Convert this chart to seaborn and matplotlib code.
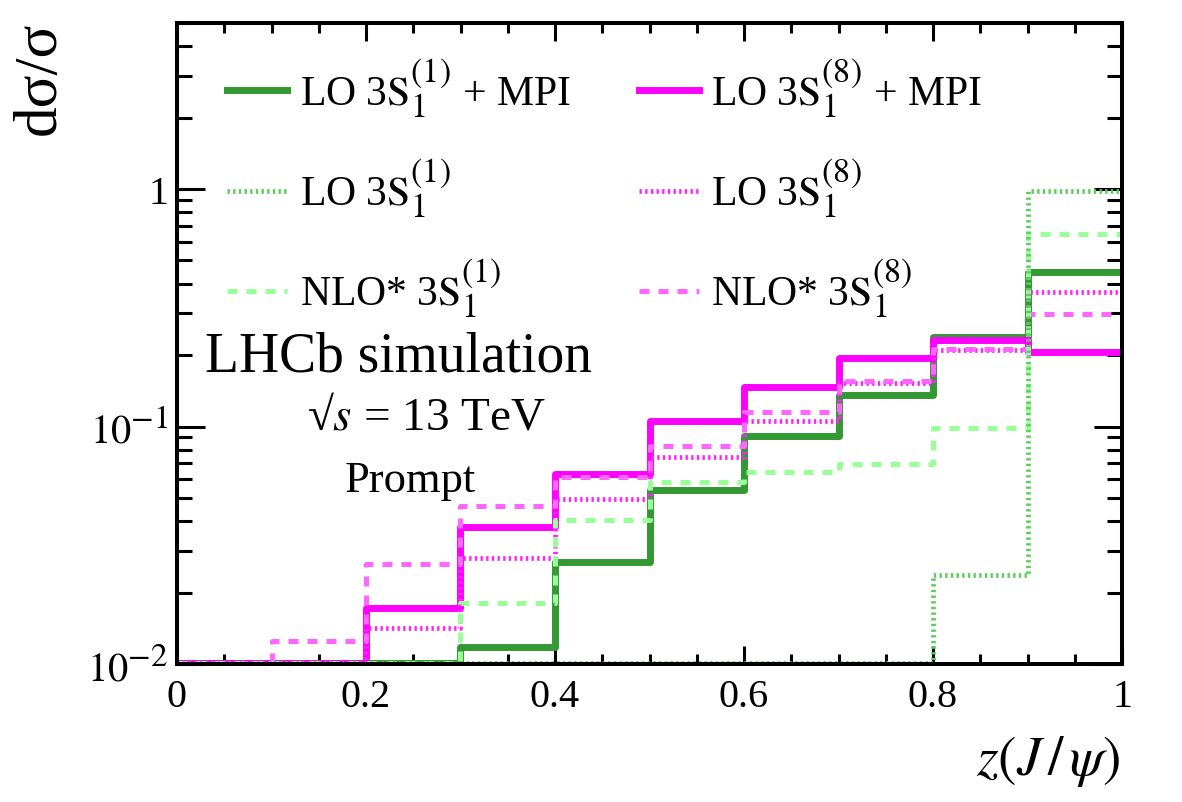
import numpy as np
import seaborn as sns
import matplotlib.pyplot as plt
import matplotlib._mathtext as mathtext_internal
from matplotlib.lines import Line2D
from matplotlib.ticker import MultipleLocator, NullFormatter

# bin edges and contents (values at ~0.0101 sit on the axis floor)
edges = [0.0, 0.1, 0.2, 0.3, 0.4, 0.5, 0.6, 0.7, 0.8, 0.9, 1.0]
centers = [0.05, 0.15, 0.25, 0.35, 0.45, 0.55, 0.65, 0.75, 0.85, 0.95]

lo1_mpi = [0.0101, 0.0101, 0.0101, 0.0118, 0.0269, 0.054, 0.0916, 0.136, 0.238, 0.447]
lo8_mpi = [0.0101, 0.0101, 0.0172, 0.0379, 0.0634, 0.105, 0.147, 0.194, 0.231, 0.205]
lo1 = [0.0101, 0.0101, 0.0101, 0.0101, 0.0101, 0.0101, 0.0101, 0.0101, 0.0237, 0.98]
lo8 = [0.0101, 0.0101, 0.0142, 0.028, 0.0497, 0.0747, 0.105, 0.153, 0.209, 0.368]
nlo1 = [0.0101, 0.0101, 0.0101, 0.0181, 0.0405, 0.0586, 0.0646, 0.0698, 0.099, 0.646]
nlo8 = [0.0101, 0.0125, 0.0264, 0.0464, 0.061, 0.0824, 0.115, 0.155, 0.213, 0.297]

labels = [
    r"LO 3$\mathrm{S}_1^{(1)}$ + MPI",
    r"LO 3$\mathrm{S}_1^{(1)}$",
    r"NLO* 3$\mathrm{S}_1^{(1)}$",
    r"LO 3$\mathrm{S}_1^{(8)}$ + MPI",
    r"LO 3$\mathrm{S}_1^{(8)}$",
    r"NLO* 3$\mathrm{S}_1^{(8)}$",
]

xticks = [0, 0.2, 0.4, 0.6, 0.8, 1.0]
xticklabels = ["0", "0.2", "0.4", "0.6", "0.8", "1"]
yticks = [0.01, 0.1, 1]
yticklabels = [r"$10^{-2}$", r"$10^{-1}$", "1"]

plt.rcParams["font.family"] = ["Liberation Serif", "DejaVu Serif"]
plt.rcParams["mathtext.fontset"] = "stix"
# ROOT-style latex draws bigger sub/superscripts than mathtext
mathtext_internal.SHRINK_FACTOR = 0.82

solid = "-"
dotted = (0, (0.5, 0.7))
dashed = (0, (2.0, 1.8))

styles = [
    # data, color, linewidth, linestyle
    (lo1_mpi, "#339933", 5.0, solid),
    (lo1, "#5ccc5c", 3.4, dotted),
    (nlo1, "#99ff99", 3.6, dashed),
    (lo8_mpi, "#ff00ff", 5.0, solid),
    (lo8, "#ff22ff", 3.4, dotted),
    (nlo8, "#ff66ff", 3.6, dashed),
]

fig = plt.figure(figsize=(11.82, 8.03), dpi=100)
ax = fig.add_axes([177 / 1182, 1 - 665 / 803, 945 / 1182, 641 / 803])

draw_order = [0, 3, 4, 5, 2, 1]
for i in draw_order:
    vals, col, lw, ls = styles[i]
    sns.histplot(x=centers, weights=vals, bins=edges, element="step",
                 fill=False, color=col, linewidth=lw, linestyle=ls, ax=ax)

ax.set_yscale("log")
ax.set_xlim(0, 1)
ax.set_ylim(0.01, 5)
ax.set_xlabel("")
ax.set_ylabel("")

ax.set_xticks(xticks)
ax.set_xticklabels(xticklabels)
ax.xaxis.set_minor_locator(MultipleLocator(0.05))
ax.set_yticks(yticks)
ax.set_yticklabels(yticklabels)
ax.yaxis.set_minor_formatter(NullFormatter())

ax.tick_params(which="both", direction="in", top=True, right=True,
               width=2.2, labelsize=29, colors="black")
ax.tick_params(axis="x", which="major", length=13, pad=10)
ax.tick_params(axis="x", which="minor", length=7)
ax.tick_params(axis="y", which="major", length=20, pad=6)
ax.tick_params(axis="y", which="minor", length=10.5)
for sp in ax.spines.values():
    sp.set_linewidth(2.9)
    sp.set_color("black")

handles = [Line2D([], [], color=c, lw=lw, linestyle=ls) for _, c, lw, ls in styles]
ax.legend(handles, labels, ncol=2, loc="upper left",
          bbox_to_anchor=(227 / 1182, 1 - 57 / 803), bbox_transform=fig.transFigure,
          frameon=False, fontsize=30, handlelength=1.45, handletextpad=0.3,
          columnspacing=1.62, labelspacing=0.9, borderpad=0, borderaxespad=0)

fig.text(205 / 1182, 1 - 372 / 803, "LHCb simulation", fontsize=40, va="baseline")
fig.text(307 / 1182, 1 - 430 / 803, r"√$s$ = 13 TeV", fontsize=34, va="baseline")
fig.text(345 / 1182, 1 - 492 / 803, "Prompt", fontsize=32, va="baseline")

fig.text(40 / 1182, 1 - 22 / 803, "dσ/σ", fontsize=44, rotation=90,
         ha="center", va="top")
fig.text(1120 / 1182, 1 - 789 / 803, r"$z(J\,/\,\psi)$", fontsize=40,
         ha="right", va="bottom")

fig.savefig("out.png", dpi=100)
